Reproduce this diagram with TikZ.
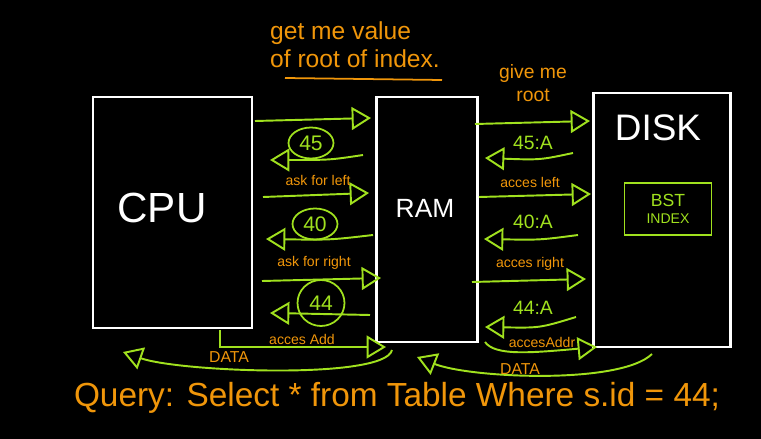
\documentclass[tikz,border=0pt]{standalone}
\usepackage{fontspec}
\setmainfont{Liberation Sans}
\usetikzlibrary{arrows.meta,shapes.geometric}

\definecolor{inkgreen}{RGB}{160,225,30}
\definecolor{inkorange}{RGB}{240,150,10}

\tikzset{
  unit/.style={draw=white, line width=1.2pt, inner sep=0pt},
  wire/.style={draw=inkgreen, line width=1.1pt, -{Triangle[open, length=11pt, width=13pt]}},
  note/.style={text=inkorange, font=\fontsize{8}{9}\selectfont},
  reply/.style={text=inkgreen, font=\fontsize{11}{12}\selectfont},
  ring/.style={draw=inkgreen, line width=1pt, ellipse, text=inkgreen, inner sep=0pt,
    font=\fontsize{12}{13}\selectfont, minimum width=0.9cm, minimum height=0.62cm}
}

\begin{document}
\begin{tikzpicture}[x=0.02cm, y=-0.02cm]
  \fill[black] (0,0) rectangle (761,439);

  %% boxes
  \node[unit, minimum width=3.18cm, minimum height=4.62cm] (cpu) at (172.5,212.5) {};
  \node[unit, minimum width=2.02cm, minimum height=4.9cm] (ram) at (427,219.5) {};
  \node[unit, minimum width=2.74cm, minimum height=5.08cm] (disk) at (662,220) {};
  \node[draw=inkgreen, line width=1pt, minimum width=1.74cm, minimum height=1.04cm,
    align=center, text=inkgreen, font=\fontsize{8}{10}\selectfont] (bst) at (668,209)
    {{\fontsize{10}{11}\selectfont BST}\\INDEX};

  %% box titles
  \node[text=white, font=\fontsize{24}{26}\selectfont] (cputxt) at (162,208) {CPU};
  \node[text=white, font=\fontsize{15}{17}\selectfont] (ramtxt) at (425,208) {RAM};
  \node[text=white, font=\fontsize{21}{23}\selectfont] (disktxt) at (658,128) {DISK};

  %% notes on top
  \node[text=inkorange, font=\fontsize{14}{16}\selectfont, align=left] (ask) at (355,45)
    {get me value\\of root of index.};
  \draw[inkorange, line width=1pt] (285,78) -- (442,80);
  \node[text=inkorange, font=\fontsize{11}{13}\selectfont, align=center] (give) at (533,83)
    {give me\\root};

  %% arrow ends CPU <-> RAM
  \coordinate (c1a) at (255,121); \coordinate (c1b) at (371,118);
  \coordinate (r1a) at (363,155); \coordinate (r1b) at (270,160);
  \coordinate (c2a) at (263,197); \coordinate (c2b) at (369,193);
  \coordinate (r2a) at (373,235); \coordinate (r2b) at (266,239);
  \coordinate (c3a) at (262,281); \coordinate (c3b) at (381,278);
  \coordinate (r3a) at (370,315); \coordinate (r3b) at (270,313);
  \coordinate (c4a) at (220,330); \coordinate (c4b) at (386,347);
  \coordinate (dl) at (392,350); \coordinate (dr) at (123,352);

  %% arrow ends RAM <-> DISK
  \coordinate (m1a) at (475,124); \coordinate (m1b) at (590,121);
  \coordinate (k1a) at (573,153); \coordinate (k1b) at (485,158);
  \coordinate (m2a) at (479,197); \coordinate (m2b) at (591,194);
  \coordinate (k2a) at (578,235); \coordinate (k2b) at (484,239);
  \coordinate (m3a) at (472,282); \coordinate (m3b) at (586,279);
  \coordinate (k3a) at (576,317); \coordinate (k3b) at (485,327);
  \coordinate (m4a) at (485,342); \coordinate (m4b) at (597,347);
  \coordinate (el) at (652,354); \coordinate (er) at (417,357);

  %% CPU -> RAM
  \draw[wire] (c1a) -- (c1b);
  \draw[wire] (c2a) -- (c2b);
  \draw[wire] (c3a) -- (c3b);
  \draw[wire] (c4a) |- (c4b);
  %% RAM -> CPU
  \draw[wire] (r1a) .. controls (330,160) .. (r1b);
  \draw[wire] (r2a) .. controls (330,240) .. (r2b);
  \draw[wire] (r3a) .. controls (330,314) .. (r3b);
  \draw[wire] (dl) .. controls (385,380) and (180,372) .. (dr);

  %% RAM -> DISK
  \draw[wire] (m1a) -- (m1b);
  \draw[wire] (m2a) -- (m2b);
  \draw[wire] (m3a) -- (m3b);
  \draw[wire] (m4a) .. controls (495,356) and (530,353) .. (m4b);
  %% DISK -> RAM
  \draw[wire] (k1a) .. controls (540,160) .. (k1b);
  \draw[wire] (k2a) .. controls (540,240) .. (k2b);
  \draw[wire] (k3a) .. controls (540,328) .. (k3b);
  \draw[wire] (el) .. controls (620,385) and (470,378) .. (er);

  %% replies
  \node[ring] (n45) at (311,143) {45};
  \node[ring] (n40) at (315,224) {40};
  \node[ring, minimum width=0.94cm, minimum height=0.92cm] (n44) at (321,303) {44};
  \node[reply] (a45) at (533,143) {45:A};
  \node[reply] (a40) at (533,222) {40:A};
  \node[reply] (a44) at (533,308) {44:A};

  %% requests
  \node[note] (l1) at (318,180) {ask for left};
  \node[note] (l2) at (314,263) {ask for right};
  \node[note] (l3) at (302,339) {acces Add};
  \node[note] (l4) at (530,182) {acces left};
  \node[note] (l5) at (530,264) {acces right};
  \node[note] (l6) at (542,342) {accesAddr};
  \node[note, font=\fontsize{9}{10}\selectfont] (l7) at (229,357) {DATA};
  \node[note, font=\fontsize{9}{10}\selectfont] (l8) at (520,369) {DATA};

  %% query
  \node[text=inkorange, font=\fontsize{19}{21}\selectfont] (query) at (397,398)
    {Query: Select * from Table Where s.id = 44;};
\end{tikzpicture}
\end{document}
